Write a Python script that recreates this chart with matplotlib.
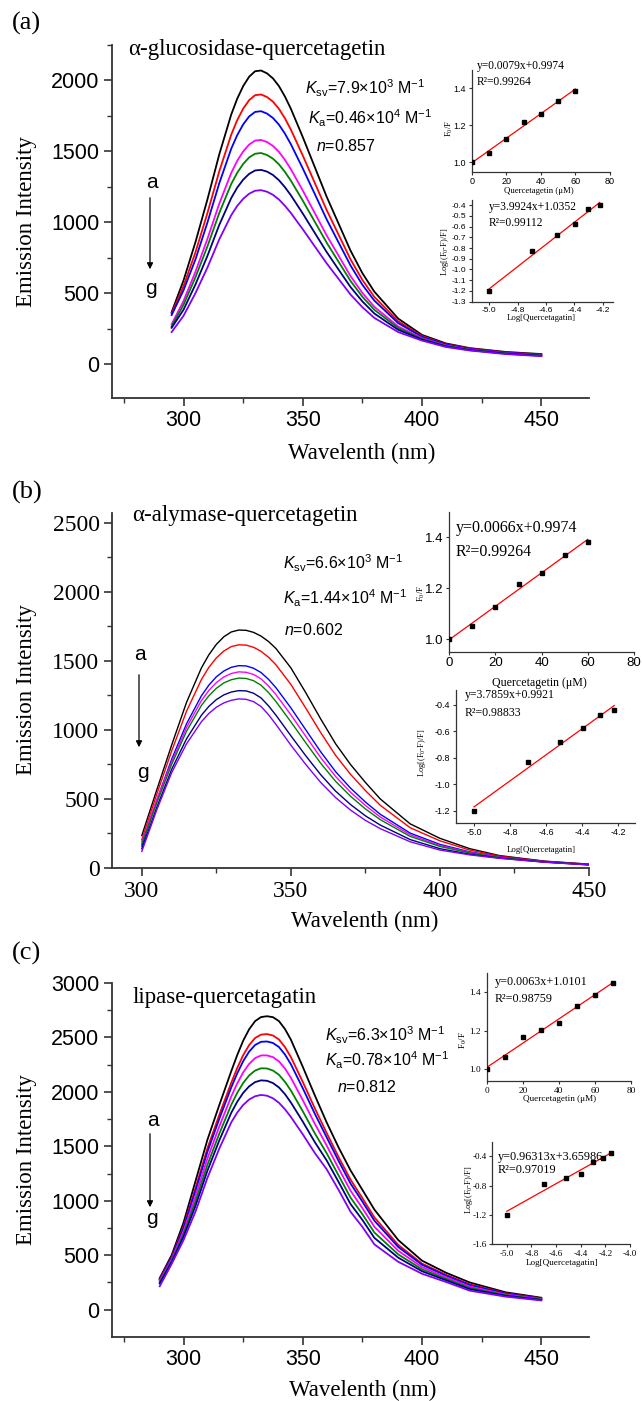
import numpy as np
import matplotlib
matplotlib.use("Agg")
import matplotlib.pyplot as plt
from matplotlib.ticker import MultipleLocator, FormatStrFormatter

plt.rcParams['mathtext.fontset'] = 'custom'
plt.rcParams['mathtext.it'] = 'Liberation Sans:italic'
plt.rcParams['mathtext.rm'] = 'Liberation Sans'
plt.rcParams['mathtext.default'] = 'regular'
plt.rcParams['axes.unicode_minus'] = False

SERIF = 'Liberation Serif'
SANS = 'Liberation Sans'

# ---------------- data: emission spectra (curves a..g) ----------------
wl_a = [295, 300, 305, 310, 315, 320, 322.5, 325, 327.5, 330, 332.5, 335, 337.5, 340, 342.5,
        345, 350, 355, 360, 365, 370, 375, 380, 390, 400, 410, 420, 435, 450]
a_black = [365, 590, 860, 1160, 1480, 1760, 1871, 1960, 2026, 2065, 2070, 2050, 2014, 1960, 1887, 1800, 1600, 1390, 1180, 990, 800, 640, 510, 320, 205, 145, 112, 85, 70]
a_red = [355, 550, 788, 1064, 1360, 1618, 1720, 1801, 1861, 1896, 1901, 1883, 1850, 1800, 1733, 1653, 1470, 1278, 1086, 912, 738, 592, 473, 301, 197, 140, 109, 82, 67]
a_blue = [345, 520, 738, 997, 1276, 1519, 1614, 1690, 1746, 1778, 1783, 1766, 1735, 1688, 1625, 1550, 1379, 1200, 1020, 857, 695, 558, 447, 288, 191, 137, 106, 80, 65]
a_magenta = [280, 445, 651, 882, 1132, 1348, 1433, 1499, 1548, 1576, 1580, 1566, 1538, 1496, 1440, 1374, 1223, 1065, 907, 764, 620, 501, 403, 265, 182, 131, 102, 76, 61]
a_green = [265, 418, 612, 829, 1066, 1270, 1349, 1411, 1457, 1483, 1488, 1474, 1448, 1408, 1355, 1293, 1152, 1004, 856, 721, 586, 474, 382, 254, 177, 128, 100, 75, 60]
a_navy = [255, 383, 561, 762, 982, 1171, 1244, 1300, 1341, 1365, 1369, 1357, 1333, 1296, 1247, 1190, 1061, 925, 790, 666, 543, 441, 356, 241, 172, 124, 98, 73, 58]
a_purple = [225, 340, 500, 680, 880, 1050, 1115, 1165, 1201, 1222, 1226, 1215, 1193, 1160, 1116, 1065, 950, 830, 710, 600, 490, 400, 325, 225, 165, 120, 95, 70, 55]

wl_b = [300, 305, 310, 315, 320, 322.5, 325, 327.5, 330, 332.5, 335, 337.5, 340, 342.5, 345,
        350, 355, 360, 365, 370, 375, 380, 390, 400, 410, 420, 435, 450]
b_black = [235, 565, 890, 1200, 1450, 1545, 1620, 1675, 1710, 1724, 1722, 1707, 1680, 1641, 1590, 1450, 1270, 1080, 900, 750, 620, 500, 320, 215, 140, 90, 50, 28]
b_red = [205, 534, 847, 1136, 1366, 1454, 1522, 1572, 1604, 1617, 1615, 1599, 1570, 1527, 1472, 1330, 1158, 981, 816, 679, 561, 454, 292, 197, 130, 86, 48, 27]
b_blue = [160, 490, 787, 1045, 1248, 1325, 1385, 1427, 1454, 1466, 1464, 1447, 1416, 1367, 1306, 1160, 1001, 842, 698, 579, 478, 389, 253, 171, 117, 80, 46, 25]
b_magenta = [190, 495, 768, 1018, 1213, 1287, 1343, 1384, 1409, 1421, 1418, 1402, 1370, 1319, 1256, 1110, 954, 800, 663, 549, 453, 369, 241, 163, 113, 78, 45, 24]
b_green = [175, 470, 750, 991, 1178, 1248, 1302, 1341, 1364, 1376, 1373, 1357, 1324, 1271, 1206, 1059, 907, 759, 628, 520, 428, 350, 229, 156, 109, 76, 44, 24]
b_navy = [140, 438, 714, 936, 1107, 1171, 1220, 1254, 1275, 1285, 1283, 1266, 1232, 1175, 1107, 958, 813, 676, 557, 460, 378, 311, 206, 140, 100, 72, 43, 23]
b_purple = [120, 420, 690, 900, 1060, 1120, 1165, 1196, 1215, 1225, 1222, 1205, 1170, 1111, 1040, 890, 750, 620, 510, 420, 345, 285, 190, 130, 95, 70, 42, 22]

wl_c = [290, 295, 300, 305, 310, 315, 320, 322.5, 325, 327.5, 330, 332.5, 335, 337.5, 340, 342.5,
        345, 350, 355, 360, 365, 370, 375, 380, 390, 400, 410, 420, 435, 450]
c_black = [290, 500, 800, 1180, 1560, 1880, 2190, 2338, 2470, 2575, 2650, 2687, 2695, 2686, 2650, 2578, 2480, 2230, 1970, 1720, 1490, 1280, 1100, 920, 640, 450, 340, 250, 160, 110]
c_red = [280, 482, 764, 1117, 1481, 1790, 2084, 2219, 2337, 2430, 2495, 2526, 2531, 2518, 2481, 2412, 2320, 2091, 1851, 1623, 1402, 1195, 1024, 848, 595, 423, 321, 233, 151, 104]
c_blue = [275, 475, 749, 1091, 1449, 1753, 2041, 2170, 2282, 2370, 2431, 2460, 2463, 2449, 2412, 2344, 2254, 2033, 1801, 1583, 1366, 1159, 992, 818, 576, 412, 313, 226, 147, 102]
c_magenta = [265, 461, 721, 1042, 1387, 1683, 1958, 2078, 2179, 2257, 2310, 2335, 2335, 2319, 2280, 2215, 2130, 1924, 1709, 1508, 1298, 1093, 932, 762, 541, 391, 298, 213, 140, 98]
c_green = [255, 447, 695, 996, 1330, 1617, 1881, 1991, 2082, 2151, 2196, 2217, 2215, 2196, 2157, 2093, 2013, 1822, 1621, 1437, 1233, 1030, 876, 709, 508, 371, 284, 201, 134, 94]
c_navy = [240, 435, 670, 953, 1276, 1555, 1808, 1909, 1991, 2051, 2090, 2106, 2102, 2081, 2041, 1980, 1903, 1727, 1540, 1371, 1173, 971, 824, 660, 478, 353, 271, 189, 128, 90]
c_purple = [215, 420, 640, 900, 1210, 1480, 1720, 1810, 1880, 1930, 1960, 1972, 1965, 1941, 1900, 1841, 1770, 1610, 1440, 1290, 1100, 900, 760, 600, 440, 330, 255, 175, 120, 85]

curve_colors = ['#000000', '#ff0000', '#0000ff', '#ff00ff', '#008000', '#000080', '#8000ff']

# ---------------- data: insets ----------------
conc_a = [0, 10, 20, 30, 40, 50, 60]
f0f_a = [1.0, 1.051, 1.127, 1.219, 1.263, 1.333, 1.388]
logc_a = [-5.0, -4.699, -4.523, -4.398, -4.301, -4.222]
logq_a = [-1.205, -0.830, -0.680, -0.572, -0.438, -0.403]

conc_b = [0, 10, 20, 30, 40, 50, 60]
f0f_b = [1.0, 1.050, 1.125, 1.217, 1.260, 1.331, 1.382]
logc_b = [-5.0, -4.699, -4.523, -4.398, -4.301, -4.222]
logq_b = [-1.205, -0.832, -0.685, -0.578, -0.480, -0.440]

conc_c = [0, 10, 20, 30, 40, 50, 60, 70]
f0f_c = [1.0, 1.063, 1.166, 1.207, 1.242, 1.331, 1.386, 1.448]
logc_c = [-5.0, -4.699, -4.523, -4.398, -4.301, -4.222, -4.155]
logq_c = [-1.20, -0.78, -0.69, -0.64, -0.48, -0.42, -0.36]

eq_a1 = ['y=0.0079x+0.9974', 'R²=0.99264']
eq_a2 = ['y=3.9924x+1.0352', 'R²=0.99112']
eq_b1 = ['y=0.0066x+0.9974', 'R²=0.99264']
eq_b2 = ['y=3.7859x+0.9921', 'R²=0.98833']
eq_c1 = ['y=0.0063x+1.0101', 'R²=0.98759']
eq_c2 = ['y=0.96313x+3.65986', 'R²=0.97019']

W, H = 642, 1401
fig = plt.figure(figsize=(W / 100, H / 100), dpi=100)


def px_axes(l, t, r, b):
    return fig.add_axes([l / W, 1 - b / H, (r - l) / W, (b - t) / H])


def ftext(x, y, s, **kw):
    return fig.text(x / W, 1 - y / H, s, **kw)


def style_main(ax, tickfont, tsize):
    for s in ['top', 'right']:
        ax.spines[s].set_visible(False)
    for s in ['left', 'bottom']:
        ax.spines[s].set_linewidth(1.3)
        ax.spines[s].set_color('#333333')
    ax.tick_params(which='major', direction='out', length=6, width=1.2,
                   color='#333333', labelsize=tsize, pad=3,
                   labelfontfamily=tickfont)
    ax.tick_params(which='minor', direction='out', length=3.5, width=1.0,
                   color='#333333')


def style_inset(ax, tickfont, tsize):
    for s in ['top', 'right']:
        ax.spines[s].set_visible(False)
    for s in ['left', 'bottom']:
        ax.spines[s].set_linewidth(0.9)
        ax.spines[s].set_color('#333333')
    ax.tick_params(which='major', direction='out', length=2.5, width=0.8,
                   color='#333333', labelsize=tsize, pad=1.5,
                   labelfontfamily=tickfont)
    ax.patch.set_alpha(0)


def draw_inset(ax, x, y):
    ax.plot(x, y, 's', color='black', ms=3.2, zorder=3)
    k, b0 = np.polyfit(x, y, 1)
    xx = np.array([min(x), max(x)])
    ax.plot(xx, k * xx + b0, color='red', lw=0.9, zorder=2)


def arrow(x, y0, y1):
    fig.add_artist(matplotlib.patches.FancyArrowPatch(
        (x / W, 1 - y0 / H), (x / W, 1 - y1 / H), transform=fig.transFigure,
        arrowstyle='-|>', mutation_scale=9, lw=0.9, color='black'))


KSIZE = 11.5

# ================= panel (a) =================
axA = px_axes(112, 45, 589, 398)
for yv, c in zip([a_black, a_red, a_blue, a_magenta, a_green, a_navy, a_purple], curve_colors):
    axA.plot(wl_a, yv, color=c, lw=1.3)
axA.set_xlim(270, 470)
axA.set_ylim(-240, 2250)
axA.set_xticks([300, 350, 400, 450])
axA.xaxis.set_minor_locator(MultipleLocator(25))
axA.yaxis.set_major_locator(MultipleLocator(500))
axA.yaxis.set_minor_locator(MultipleLocator(250))
style_main(axA, SANS, 15.5)

ftext(12, 23, '(a)', family=SERIF, fontsize=19, ha='left', va='center')
ftext(128, 50, 'α-glucosidase-quercetagetin', family=SERIF, fontsize=16.5, ha='left', va='center')
ftext(305, 88, r'$\mathit{K}_{sv}$=7.9×10$^3$ M$^{-1}$', family=SANS, fontsize=KSIZE, ha='left', va='center')
ftext(308, 118, r'$\mathit{K}_{a}$=0.46×10$^4$ M$^{-1}$', family=SANS, fontsize=KSIZE, ha='left', va='center')
ftext(316, 146, r'$\mathit{n}$=0.857', family=SANS, fontsize=KSIZE, ha='left', va='center')
ftext(152, 182, 'a', family=SANS, fontsize=15, ha='center', va='center')
ftext(151, 288, 'g', family=SANS, fontsize=15, ha='center', va='center')
arrow(150, 195, 272)
ftext(27, 222, 'Emission Intensity', family=SERIF, fontsize=16.5, rotation=90, ha='center', va='center')
ftext(362, 453, 'Wavelenth (nm)', family=SERIF, fontsize=16.5, ha='center', va='center')

# inset a1
ia1 = px_axes(471.7, 70, 610, 171.7)
draw_inset(ia1, conc_a, f0f_a)
ia1.set_xlim(0, 80)
ia1.set_ylim(0.95, 1.5)
ia1.set_xticks([0, 20, 40, 60, 80])
ia1.set_yticks([1.0, 1.2, 1.4])
ia1.yaxis.set_major_formatter(FormatStrFormatter('%.1f'))
style_inset(ia1, SANS, 6.5)
ftext(476.7, 66, eq_a1[0], family=SERIF, fontsize=8.3, ha='left', va='center')
ftext(476.7, 82, eq_a1[1], family=SERIF, fontsize=8.3, ha='left', va='center')
ftext(539, 191, 'Quercetagetin (μM)', family=SERIF, fontsize=6.3, ha='center', va='center')
ftext(449, 128, 'F$_0$/F', family=SERIF, fontsize=6.3, rotation=90, ha='center', va='center')

# inset a2
ia2 = px_axes(471.7, 200, 612.7, 301.7)
draw_inset(ia2, logc_a, logq_a)
ia2.set_xlim(-5.124, -4.13)
ia2.set_ylim(-1.3, -0.353)
ia2.set_xticks([-5.0, -4.8, -4.6, -4.4, -4.2])
ia2.set_yticks([-1.3, -1.2, -1.1, -1.0, -0.9, -0.8, -0.7, -0.6, -0.5, -0.4])
ia2.xaxis.set_major_formatter(FormatStrFormatter('%.1f'))
ia2.yaxis.set_major_formatter(FormatStrFormatter('%.1f'))
style_inset(ia2, SANS, 6)
ftext(489, 207, eq_a2[0], family=SERIF, fontsize=8.3, ha='left', va='center')
ftext(489, 223, eq_a2[1], family=SERIF, fontsize=8.3, ha='left', va='center')
ftext(541, 318, 'Log[Quercetagatin]', family=SERIF, fontsize=6.3, ha='center', va='center')
ftext(445, 252, 'Log[(F$_0$-F)/F]', family=SERIF, fontsize=6, rotation=90, ha='center', va='center')

# ================= panel (b) =================
axB = px_axes(112, 513, 589, 868)
for yv, c in zip([b_black, b_red, b_blue, b_magenta, b_green, b_navy, b_purple], curve_colors):
    axB.plot(wl_b, yv, color=c, lw=1.0)
axB.set_xlim(290, 450)
axB.set_ylim(0, 2572)
axB.set_xticks([300, 350, 400, 450])
axB.xaxis.set_minor_locator(MultipleLocator(25))
axB.yaxis.set_major_locator(MultipleLocator(500))
axB.yaxis.set_minor_locator(MultipleLocator(250))
style_main(axB, SERIF, 17)

ftext(12, 492, '(b)', family=SERIF, fontsize=19, ha='left', va='center')
ftext(132, 515, 'α-alymase-quercetagetin', family=SERIF, fontsize=16.5, ha='left', va='center')
ftext(283, 563, r'$\mathit{K}_{sv}$=6.6×10$^3$ M$^{-1}$', family=SANS, fontsize=KSIZE, ha='left', va='center')
ftext(283, 598, r'$\mathit{K}_{a}$=1.44×10$^4$ M$^{-1}$', family=SANS, fontsize=KSIZE, ha='left', va='center')
ftext(284, 630, r'$\mathit{n}$=0.602', family=SANS, fontsize=KSIZE, ha='left', va='center')
ftext(140, 655, 'a', family=SANS, fontsize=15, ha='center', va='center')
ftext(143, 772, 'g', family=SANS, fontsize=15, ha='center', va='center')
arrow(139, 672, 750)
ftext(27, 690, 'Emission Intensity', family=SERIF, fontsize=16.5, rotation=90, ha='center', va='center')
ftext(365, 921, 'Wavelenth (nm)', family=SERIF, fontsize=16.5, ha='center', va='center')

# inset b1
ib1 = px_axes(449.3, 512, 634, 651.7)
draw_inset(ib1, conc_b, f0f_b)
ib1.set_xlim(0, 80)
ib1.set_ylim(0.95, 1.5)
ib1.set_xticks([0, 20, 40, 60, 80])
ib1.set_yticks([1.0, 1.2, 1.4])
ib1.yaxis.set_major_formatter(FormatStrFormatter('%.1f'))
style_inset(ib1, SANS, 9.5)
ftext(456, 528, eq_b1[0], family=SERIF, fontsize=11.5, ha='left', va='center')
ftext(456, 552, eq_b1[1], family=SERIF, fontsize=11.5, ha='left', va='center')
ftext(539, 683, 'Quercetagetin (μM)', family=SERIF, fontsize=8.6, ha='center', va='center')
ftext(421.7, 593, 'F$_0$/F', family=SERIF, fontsize=6.3, rotation=90, ha='center', va='center')

# inset b2
ib2 = px_axes(456, 690, 635, 822.7)
draw_inset(ib2, logc_b, logq_b)
ib2.set_xlim(-5.10, -4.107)
ib2.set_ylim(-1.29, -0.29)
ib2.set_xticks([-5.0, -4.8, -4.6, -4.4, -4.2])
ib2.set_yticks([-1.2, -1.0, -0.8, -0.6, -0.4])
ib2.xaxis.set_major_formatter(FormatStrFormatter('%.1f'))
ib2.yaxis.set_major_formatter(FormatStrFormatter('%.1f'))
style_inset(ib2, SANS, 6.5)
ftext(465, 695, eq_b2[0], family=SERIF, fontsize=8.5, ha='left', va='center')
ftext(465, 713, eq_b2[1], family=SERIF, fontsize=8.5, ha='left', va='center')
ftext(541, 850, 'Log[Quercetagatin]', family=SERIF, fontsize=6.3, ha='center', va='center')
ftext(421.7, 753, 'Log[(F$_0$-F)/F]', family=SERIF, fontsize=6, rotation=90, ha='center', va='center')

# ================= panel (c) =================
axC = px_axes(112, 983, 589, 1336.7)
for yv, c in zip([c_black, c_red, c_blue, c_magenta, c_green, c_navy, c_purple], curve_colors):
    axC.plot(wl_c, yv, color=c, lw=1.3)
axC.set_xlim(270, 470)
axC.set_ylim(-248, 3000)
axC.set_xticks([300, 350, 400, 450])
axC.xaxis.set_minor_locator(MultipleLocator(25))
axC.yaxis.set_major_locator(MultipleLocator(500))
axC.yaxis.set_minor_locator(MultipleLocator(250))
style_main(axC, SANS, 15.5)

ftext(12, 953, '(c)', family=SERIF, fontsize=19, ha='left', va='center')
ftext(133, 997, 'lipase-quercetagatin', family=SERIF, fontsize=16.5, ha='left', va='center')
ftext(325, 1035, r'$\mathit{K}_{sv}$=6.3×10$^3$ M$^{-1}$', family=SANS, fontsize=KSIZE, ha='left', va='center')
ftext(325, 1060, r'$\mathit{K}_{a}$=0.78×10$^4$ M$^{-1}$', family=SANS, fontsize=KSIZE, ha='left', va='center')
ftext(337, 1087, r'$\mathit{n}$=0.812', family=SANS, fontsize=KSIZE, ha='left', va='center')
ftext(153, 1120, 'a', family=SANS, fontsize=15, ha='center', va='center')
ftext(152, 1218, 'g', family=SANS, fontsize=15, ha='center', va='center')
arrow(150, 1131, 1210)
ftext(27, 1160, 'Emission Intensity', family=SERIF, fontsize=16.5, rotation=90, ha='center', va='center')
ftext(363, 1390, 'Wavelenth (nm)', family=SERIF, fontsize=16.5, ha='center', va='center')

# inset c1
ic1 = px_axes(486.7, 973, 631, 1081)
draw_inset(ic1, conc_c, f0f_c)
ic1.set_xlim(0, 80)
ic1.set_ylim(0.94, 1.5)
ic1.set_xticks([0, 20, 40, 60, 80])
ic1.set_yticks([1.0, 1.2, 1.4])
ic1.yaxis.set_major_formatter(FormatStrFormatter('%.1f'))
style_inset(ic1, SERIF, 6.7)
ftext(495, 982, eq_c1[0], family=SERIF, fontsize=8.7, ha='left', va='center')
ftext(495, 999, eq_c1[1], family=SERIF, fontsize=8.7, ha='left', va='center')
ftext(560, 1099, 'Quercetagetin (μM)', family=SERIF, fontsize=6.6, ha='center', va='center')
ftext(463.3, 1040, 'F$_0$/F', family=SERIF, fontsize=6.6, rotation=90, ha='center', va='center')

# inset c2
ic2 = px_axes(492, 1141.7, 630, 1244)
draw_inset(ic2, logc_c, logq_c)
ic2.set_xlim(-5.12, -4.0)
ic2.set_ylim(-1.6, -0.2)
ic2.set_xticks([-5.0, -4.8, -4.6, -4.4, -4.2, -4.0])
ic2.set_yticks([-1.6, -1.2, -0.8, -0.4])
ic2.xaxis.set_major_formatter(FormatStrFormatter('%.1f'))
ic2.yaxis.set_major_formatter(FormatStrFormatter('%.1f'))
style_inset(ic2, SERIF, 6.5)
ftext(498, 1157, eq_c2[0], family=SERIF, fontsize=8.8, ha='left', va='center')
ftext(498, 1170, eq_c2[1], family=SERIF, fontsize=8.8, ha='left', va='center')
ftext(562, 1263, 'Log[Quercetagatin]', family=SERIF, fontsize=6.6, ha='center', va='center')
ftext(469, 1190, 'Log[(F$_0$-F)/F]', family=SERIF, fontsize=6, rotation=90, ha='center', va='center')

fig.savefig('out.png', dpi=100, facecolor='white')
